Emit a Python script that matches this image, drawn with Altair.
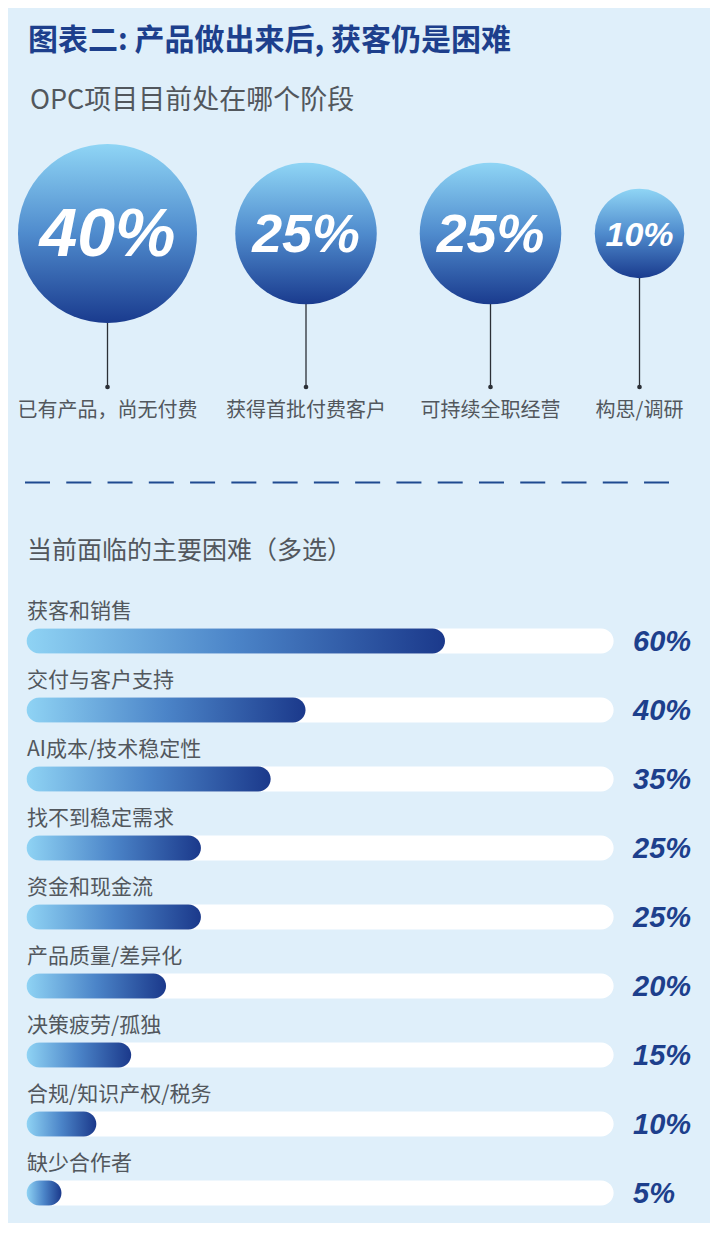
import altair as alt
import pandas as pd

# ---------------- data ----------------
stage_labels = ["已有产品，尚无付费", "获得首批付费客户", "可持续全职经营", "构思/调研"]
stage_values = [40, 25, 25, 10]
stage_texts = ["40%", "25%", "25%", "10%"]

difficulty_labels = ["获客和销售", "交付与客户支持", "AI成本/技术稳定性", "找不到稳定需求",
                     "资金和现金流", "产品质量/差异化", "决策疲劳/孤独", "合规/知识产权/税务", "缺少合作者"]
difficulty_values = [60, 40, 35, 25, 25, 20, 15, 10, 5]
difficulty_texts = ["60%", "40%", "35%", "25%", "25%", "20%", "15%", "10%", "5%"]

title_text = "图表二: 产品做出来后, 获客仍是困难"
subtitle_text = "OPC项目目前处在哪个阶段"
section_text = "当前面临的主要困难（多选）"

# ---------------- layout (pixels, chart coordinates) ----------------
W, H = 702, 1215
stage_centers = [99.5, 298, 482.5, 631.5]
circle_cy = 225.5
max_radius = 89.5
stem_end = 379
stage_label_y = 403
row_first, row_step = 633, 69
track_max = 84.18
bar_domain = [-2.667, 98.0]

BG = "#dfeffa"
NAVY = "#1d3f8c"
GRAY = "#52575d"
CJK = "Noto Sans CJK SC"
NUM = "Liberation Sans"

stage_df = pd.DataFrame({"label": stage_labels, "value": stage_values,
                         "txt": stage_texts, "cx": stage_centers})
diff_df = pd.DataFrame({"label": difficulty_labels, "value": difficulty_values,
                        "txt": difficulty_texts})

px_x = alt.Scale(domain=[0, W], range=[0, W], nice=False, zero=False)

circle_grad = alt.Gradient(
    gradient="linear", x1=0, y1=0, x2=0, y2=1,
    stops=[alt.GradientStop(color="#8fd5f5", offset=0),
           alt.GradientStop(color="#4f8bcd", offset=0.5),
           alt.GradientStop(color="#1a3b8e", offset=1)])
bar_grad = alt.Gradient(
    gradient="linear", x1=0, y1=0, x2=1, y2=0,
    stops=[alt.GradientStop(color="#8fd3f4", offset=0),
           alt.GradientStop(color="#4b84c8", offset=0.5),
           alt.GradientStop(color="#1b398b", offset=1)])

# ---------------- decor ----------------
def txt(s, x, y, size, color, weight="normal", font=CJK):
    return alt.Chart(pd.DataFrame({"t": [s]})).mark_text(
        align="left", baseline="middle", fontSize=size, color=color,
        fontWeight=weight, font=font
    ).encode(text="t:N", x=alt.value(x), y=alt.value(y))

title = txt(title_text, 20, 33, 30, NAVY, "bold")
subtitle = txt(subtitle_text, 22, 93, 27, GRAY)
section = txt(section_text, 19, 543, 25, GRAY)
dash = alt.Chart(pd.DataFrame({"a": [0]})).mark_rule(
    color="#1f4a90", strokeWidth=2, strokeDash=[25, 16.27]
).encode(x=alt.value(17), x2=alt.value(661), y=alt.value(474.5))

# ---------------- top: stage circles ----------------
base_top = alt.Chart(stage_df)
stems = base_top.mark_rule(color="#2b2f36", strokeWidth=1.3).encode(
    x=alt.X("cx:Q", scale=px_x, axis=None),
    y=alt.value(circle_cy), y2=alt.value(stem_end))
dots = base_top.mark_circle(color="#2b2f36", opacity=1, size=22).encode(
    x=alt.X("cx:Q", scale=px_x, axis=None), y=alt.value(stem_end))
# Vega symbol size = area of bounding square -> (2r)^2
circles = base_top.mark_circle(color=circle_grad, opacity=1).encode(
    x=alt.X("cx:Q", scale=px_x, axis=None),
    y=alt.value(circle_cy),
    size=alt.Size("value:Q", scale=alt.Scale(domain=[0, 40], range=[0, (2 * max_radius) ** 2]),
                  legend=None))
circle_txt = base_top.mark_text(
    color="white", font=NUM, fontWeight="bold", fontStyle="italic",
    align="center", baseline="middle", dy=2
).encode(
    x=alt.X("cx:Q", scale=px_x, axis=None),
    y=alt.value(circle_cy),
    text="txt:N",
    size=alt.Size("value:Q", scale=alt.Scale(type="sqrt", domain=[0, 40], range=[0, 68]),
                  legend=None))
stage_txt = base_top.mark_text(
    color=GRAY, font=CJK, fontSize=20, align="center", baseline="middle"
).encode(x=alt.X("cx:Q", scale=px_x, axis=None), y=alt.value(stage_label_y), text="label:N")

top = alt.layer(stems, dots, circles, circle_txt, stage_txt).resolve_scale(size="independent")

# ---------------- bottom: difficulty bars ----------------
bx = alt.Scale(domain=bar_domain, nice=False, zero=False)
by = alt.Scale(type="point", domain=difficulty_labels,
               range=[row_first, row_first + row_step * (len(difficulty_labels) - 1)], padding=0)

base_bot = alt.Chart(diff_df).transform_calculate(zero="0", tmax=str(track_max))
track = base_bot.mark_bar(color="white", size=25, cornerRadius=12.5).encode(
    x=alt.X("zero:Q", scale=bx, axis=None), x2="tmax:Q",
    y=alt.Y("label:N", scale=by, axis=None))
bars = base_bot.mark_bar(color=bar_grad, size=25, cornerRadius=12.5).encode(
    x=alt.X("zero:Q", scale=bx, axis=None), x2="value:Q",
    y=alt.Y("label:N", scale=by, axis=None))
cat_txt = base_bot.mark_text(
    color=GRAY, font=CJK, fontSize=21, align="left", baseline="middle", dy=-29
).encode(x=alt.value(19), y=alt.Y("label:N", scale=by, axis=None), text="label:N")
pct_txt = base_bot.mark_text(
    color=NAVY, font=NUM, fontSize=29, fontWeight="bold", fontStyle="italic",
    align="left", baseline="middle", dy=1
).encode(x=alt.value(625), y=alt.Y("label:N", scale=by, axis=None), text="txt:N")

bottom = alt.layer(track, bars, cat_txt, pct_txt)

chart = alt.layer(title, subtitle, dash, section, top, bottom).resolve_scale(
    x="independent", y="independent", size="independent"
).properties(
    width=W, height=H, background=BG, padding=0,
    autosize=alt.AutoSizeParams(type="none")
).configure_view(stroke=None)

chart.save("out.html", embed_options={"renderer": "svg", "actions": False})
